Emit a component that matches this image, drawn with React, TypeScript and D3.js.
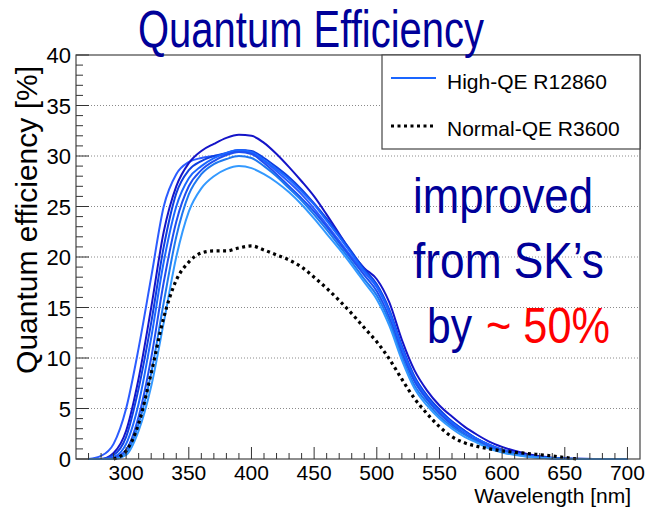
import * as d3 from "d3";

const wavelengths = [270, 280, 290, 300, 310, 320, 330, 340, 350, 360, 370, 380, 390, 400, 410, 420, 430, 440, 450, 460, 470, 480, 490, 500, 510, 520, 530, 540, 550, 560, 570, 580, 590, 600, 620, 640, 660, 680, 700];

// High-QE R12860 tubes (several samples)
const hqeA = [0, 0.3, 1.5, 5, 11, 18, 25, 28.2, 29.4, 29.8, 30.0, 30.2, 30.5, 30.3, 29.5, 28.5, 27.4, 26.2, 24.8, 23.2, 21.6, 20.0, 18.5, 17.0, 14.5, 11.0, 8.0, 6.2, 4.8, 3.7, 2.8, 2.0, 1.4, 0.95, 0.4, 0.1, 0.02, 0, 0];
const hqeB = [0, 0, 0.6, 2.8, 8, 15, 22.5, 27, 29.3, 30.5, 31.2, 31.8, 32.1, 32.0, 31.3, 30.2, 28.9, 27.5, 26.0, 24.2, 22.3, 20.4, 18.9, 17.8, 15.5, 11.8, 8.8, 6.8, 5.3, 4.2, 3.2, 2.4, 1.7, 1.2, 0.5, 0.13, 0.02, 0, 0];
const hqeC = [0, 0, 0.4, 2.2, 7, 13.5, 21, 26.3, 28.6, 29.5, 30.0, 30.3, 30.6, 30.5, 29.8, 28.9, 27.9, 26.7, 25.3, 23.8, 22.2, 20.5, 18.8, 17.3, 14.8, 11.2, 8.2, 6.3, 4.9, 3.7, 2.8, 2.0, 1.4, 0.9, 0.35, 0.08, 0, 0, 0];
const hqeD = [0, 0, 0.2, 1.5, 5.5, 12, 19.5, 25, 27.8, 29.0, 29.8, 30.3, 30.6, 30.4, 29.6, 28.7, 27.7, 26.5, 25.2, 23.6, 22.0, 20.3, 18.6, 17.1, 14.6, 11.0, 8.0, 6.1, 4.7, 3.6, 2.7, 2.0, 1.4, 0.9, 0.35, 0.08, 0, 0, 0];
const hqeE = [0, 0, 0.1, 0.9, 4.2, 10, 17.5, 23.5, 27, 28.6, 29.5, 30.1, 30.4, 30.2, 29.3, 28.2, 27.0, 25.8, 24.5, 23.0, 21.4, 19.8, 18.2, 16.6, 14.0, 10.5, 7.7, 5.9, 4.5, 3.4, 2.5, 1.8, 1.2, 0.8, 0.3, 0.07, 0, 0, 0];
const hqeF = [0, 0, 0, 0.6, 3.5, 8.5, 15.5, 22, 26.2, 28.2, 29.2, 29.7, 30.0, 29.8, 29.0, 28.0, 26.8, 25.6, 24.2, 22.7, 21.1, 19.5, 17.8, 16.2, 13.6, 10.1, 7.3, 5.6, 4.2, 3.2, 2.4, 1.7, 1.1, 0.7, 0.25, 0.05, 0, 0, 0];
const hqeG = [0, 0, 0, 0.4, 2.8, 7.2, 13.5, 20, 24.5, 26.8, 28.0, 28.7, 29.0, 28.8, 28.2, 27.4, 26.4, 25.2, 23.8, 22.3, 20.8, 19.2, 17.5, 15.8, 13.2, 9.8, 7.0, 5.3, 4.0, 3.0, 2.2, 1.6, 1.0, 0.65, 0.22, 0.05, 0, 0, 0];

// Normal-QE R3600
const nqeWavelengths = [290, 300, 310, 320, 330, 340, 350, 360, 370, 380, 390, 400, 410, 420, 430, 440, 450, 460, 470, 480, 490, 500, 510, 520, 530, 540, 550, 560, 570, 580, 590, 600, 620, 640, 650, 660];
const nqe = [0, 0.8, 3.5, 8.5, 14, 17.7, 19.5, 20.4, 20.6, 20.6, 20.9, 21.1, 20.7, 20.2, 19.7, 19.0, 18.0, 16.9, 15.7, 14.4, 13.0, 11.6, 9.9, 7.9, 6.0, 4.5, 3.2, 2.2, 1.6, 1.25, 1.0, 0.8, 0.55, 0.3, 0.15, 0];

const hqeSeries = [hqeA, hqeB, hqeC, hqeD, hqeE, hqeF, hqeG];
const hqeColors = ["#2b5cff", "#1414c8", "#0f3fe0", "#1a66ff", "#1f4ff0", "#1e78f0", "#3399ff"];

const xTicks = [300, 350, 400, 450, 500, 550, 600, 650, 700];
const yTicks = [0, 5, 10, 15, 20, 25, 30, 35, 40];

const W = 646;
const H = 507;
const left = 76;
const right = 640;
const top = 55;
const bottom = 459;
const font = "'Liberation Sans', Arial, Helvetica, sans-serif";

export default function App() {
  const x = d3.scaleLinear().domain([260, 710]).range([left, right]);
  const y = d3.scaleLinear().domain([0, 40]).range([bottom, top]);
  const line = d3
    .line<[number, number]>()
    .x((d) => x(d[0]))
    .y((d) => y(d[1]))
    .curve(d3.curveMonotoneX);

  const minorX = d3.range(270, 710, 10);
  const minorY = d3.range(0, 41, 1);
  const navy = "#000099";

  return (
    <svg width={W} height={H} style={{ position: "absolute", left: 0, top: 0, background: "#fff" }} fontFamily={font}>
      <rect x={0} y={0} width={W} height={H} fill="#fff" />
      {yTicks.filter((t) => t > 0 && t < 40).map((t) => (
        <line key={`g${t}`} x1={left} x2={right} y1={y(t)} y2={y(t)} stroke="#8a8a8a" strokeWidth={1} strokeDasharray="1 2" />
      ))}
      {hqeSeries.map((s, i) => (
        <path
          key={`h${i}`}
          d={line(wavelengths.map((w, j) => [w, s[j]] as [number, number])) || ""}
          fill="none"
          stroke={hqeColors[i]}
          strokeWidth={2}
        />
      ))}
      <path
        d={line(nqeWavelengths.map((w, j) => [w, nqe[j]] as [number, number])) || ""}
        fill="none"
        stroke="#000"
        strokeWidth={3.2}
        strokeDasharray="3 3.5"
      />
      {/* frame */}
      <rect x={left} y={top} width={right - left} height={bottom - top} fill="none" stroke="#444" strokeWidth={1.2} />
      {minorX.map((t) => (
        <line key={`mx${t}`} x1={x(t)} x2={x(t)} y1={bottom} y2={bottom - (t % 50 === 0 ? 12 : 6)} stroke="#333" strokeWidth={1} />
      ))}
      {minorY.map((t) => (
        <line key={`my${t}`} x1={left} x2={left + (t % 5 === 0 ? 13 : 7)} y1={y(t)} y2={y(t)} stroke="#333" strokeWidth={1} />
      ))}
      {xTicks.map((t) => (
        <text key={`xl${t}`} x={x(t)} y={480} fontSize={21} textAnchor="middle" fill="#000">
          {t}
        </text>
      ))}
      {yTicks.map((t) => (
        <text key={`yl${t}`} x={71} y={y(t) + 8} fontSize={22} textAnchor="end" fill="#000">
          {t}
        </text>
      ))}
      <text x={631} y={503} fontSize={21} textAnchor="end" fill="#000">
        Wavelength [nm]
      </text>
      <text transform="translate(37,66) rotate(-90)" fontSize={30} textAnchor="end" fill="#000">
        Quantum efficiency [%]
      </text>
      {/* legend */}
      <rect x={382} y={top} width={right - 382} height={94} fill="#fff" stroke="#444" strokeWidth={1.2} />
      <line x1={391} x2={436} y1={78} y2={78} stroke="#1a66ff" strokeWidth={2} />
      <text x={447} y={89} fontSize={21} fill="#000">
        High-QE R12860
      </text>
      <line x1={391} x2={436} y1={126} y2={126} stroke="#000" strokeWidth={3.2} strokeDasharray="3 3.5" />
      <text x={447} y={136} fontSize={21} fill="#000">
        Normal-QE R3600
      </text>
      {/* title */}
      <text x={138} y={47} fontSize={52} fill={navy} textLength={346} lengthAdjust="spacingAndGlyphs">
        Quantum Efficiency
      </text>
      {/* annotation */}
      <text x={413} y={213} fontSize={50} fill={navy} textLength={180} lengthAdjust="spacingAndGlyphs">
        improved
      </text>
      <text x={413} y={278} fontSize={50} fill={navy} textLength={191} lengthAdjust="spacingAndGlyphs">
        from SK’s
      </text>
      <text x={427} y={343} fontSize={50} fill={navy} textLength={45} lengthAdjust="spacingAndGlyphs">
        by
      </text>
      <text x={486} y={343} fontSize={50} fill="#ff0000" textLength={124} lengthAdjust="spacingAndGlyphs">
        ~ 50%
      </text>
    </svg>
  );
}
